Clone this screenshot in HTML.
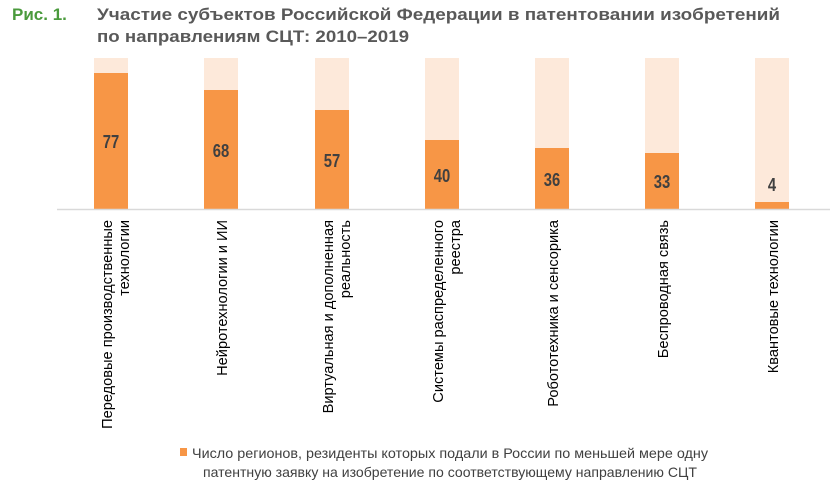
<!DOCTYPE html>
<html><head><meta charset="utf-8"><style>
body{margin:0;background:#fff;}
svg{display:block;}
text{font-family:"Liberation Sans",sans-serif;}
</style></head><body>
<svg width="840" height="487" xmlns="http://www.w3.org/2000/svg">
<text x="12" y="20" font-size="17" font-weight="bold" fill="#4a9a3c">Рис. 1.</text>
<text x="97" y="20" font-size="17" font-weight="bold" fill="#595959" textLength="683" lengthAdjust="spacingAndGlyphs">Участие субъектов Российской Федерации в патентовании изобретений</text>
<text x="97" y="42" font-size="17" font-weight="bold" fill="#595959" textLength="312" lengthAdjust="spacingAndGlyphs">по направлениям СЦТ: 2010–2019</text>
<g id="bars">
<rect x="94" y="58" width="34" height="151" fill="#fde9da"/><rect x="94" y="73" width="34" height="136" fill="#f79646"/>
<rect x="204" y="58" width="34" height="151" fill="#fde9da"/><rect x="204" y="90" width="34" height="119" fill="#f79646"/>
<rect x="315" y="58" width="34" height="151" fill="#fde9da"/><rect x="315" y="110" width="34" height="99" fill="#f79646"/>
<rect x="425" y="58" width="34" height="151" fill="#fde9da"/><rect x="425" y="140" width="34" height="69" fill="#f79646"/>
<rect x="535" y="58" width="34" height="151" fill="#fde9da"/><rect x="535" y="148" width="34" height="61" fill="#f79646"/>
<rect x="645" y="58" width="34" height="151" fill="#fde9da"/><rect x="645" y="153" width="34" height="56" fill="#f79646"/>
<rect x="755" y="58" width="34" height="151" fill="#fde9da"/><rect x="755" y="202" width="34" height="7" fill="#f79646"/>
</g>
<line x1="57" y1="209.5" x2="830" y2="209.5" stroke="#d9d9d9" stroke-width="1.5"/>
<g font-size="18.5" font-weight="bold" fill="#404040" text-anchor="middle">
<text x="111" y="148" transform="translate(111 0) scale(0.8 1) translate(-111 0)">77</text>
<text x="221" y="157" transform="translate(221 0) scale(0.8 1) translate(-221 0)">68</text>
<text x="332" y="167" transform="translate(332 0) scale(0.8 1) translate(-332 0)">57</text>
<text x="442" y="182" transform="translate(442 0) scale(0.8 1) translate(-442 0)">40</text>
<text x="552" y="186" transform="translate(552 0) scale(0.8 1) translate(-552 0)">36</text>
<text x="662" y="188" transform="translate(662 0) scale(0.8 1) translate(-662 0)">33</text>
<text x="772" y="191" transform="translate(772 0) scale(0.8 1) translate(-772 0)">4</text>
</g>
<g font-size="14.6" fill="#000" text-anchor="end">
<text transform="translate(112 220) rotate(-90)">Передовые производственные</text>
<text transform="translate(129 220) rotate(-90)">технологии</text>
<text transform="translate(227 220) rotate(-90)">Нейротехнологии и ИИ</text>
<text transform="translate(333 220) rotate(-90)">Виртуальная и дополненная</text>
<text transform="translate(350 220) rotate(-90)">реальность</text>
<text transform="translate(443 220) rotate(-90)">Системы распределенного</text>
<text transform="translate(460 220) rotate(-90)">реестра</text>
<text transform="translate(558 220) rotate(-90)">Робототехника и сенсорика</text>
<text transform="translate(668 220) rotate(-90)">Беспроводная связь</text>
<text transform="translate(778 220) rotate(-90)">Квантовые технологии</text>
</g>
<rect x="180" y="448" width="7" height="8" fill="#f79646"/>
<text x="192" y="458" font-size="14" fill="#404040" textLength="516" lengthAdjust="spacingAndGlyphs">Число регионов, резиденты которых подали в России по меньшей мере одну</text>
<text x="203" y="477" font-size="14" fill="#404040" textLength="494" lengthAdjust="spacingAndGlyphs">патентную заявку на изобретение по соответствующему направлению СЦТ</text>
</svg>
</body></html>
